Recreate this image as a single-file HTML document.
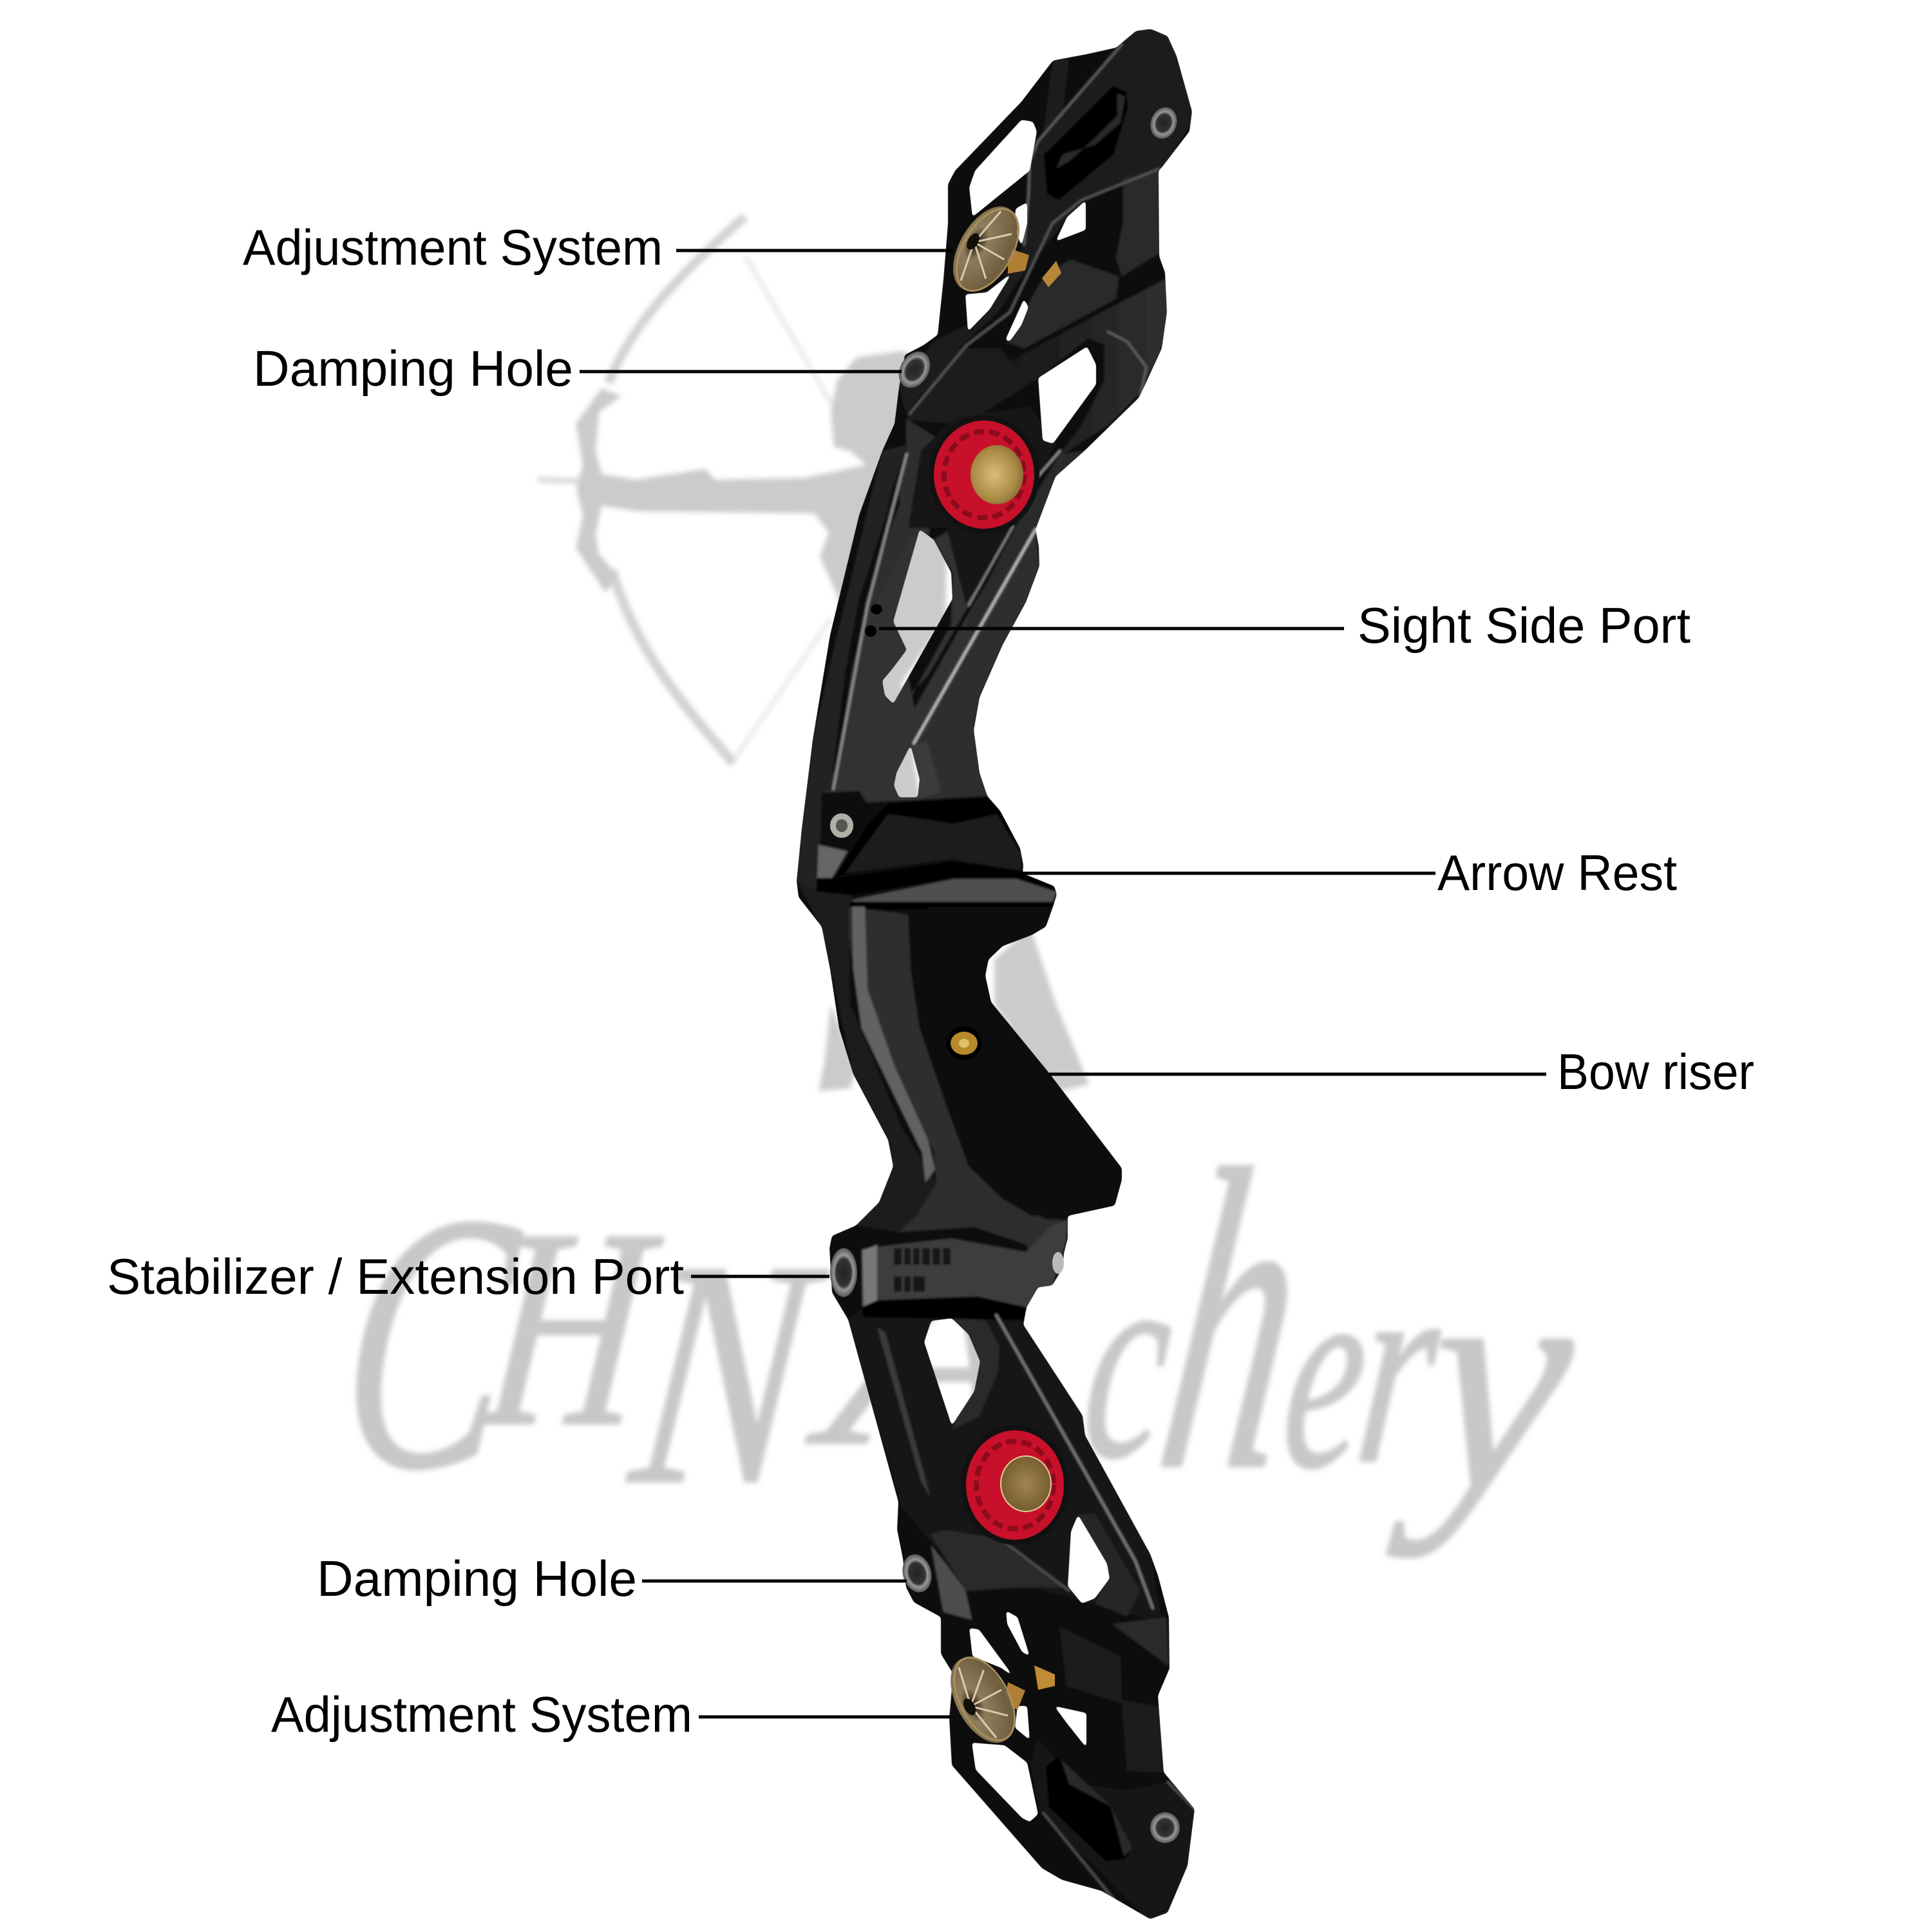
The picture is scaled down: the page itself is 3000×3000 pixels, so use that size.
<!DOCTYPE html>
<html><head><meta charset="utf-8"><style>html,body{margin:0;padding:0;background:#fff}svg{display:block}</style></head><body>
<svg xmlns="http://www.w3.org/2000/svg" width="3000" height="3000" viewBox="0 0 3000 3000">
<defs>
<filter id="b" filterUnits="userSpaceOnUse" x="0" y="0" width="3000" height="3000"><feGaussianBlur stdDeviation="4"/></filter>
<filter id="soft" filterUnits="userSpaceOnUse" x="1100" y="0" width="900" height="3000"><feGaussianBlur stdDeviation="1.6"/></filter>
<filter id="round" filterUnits="userSpaceOnUse" x="0" y="0" width="3000" height="3000" color-interpolation-filters="sRGB">
<feGaussianBlur stdDeviation="2.5"/>
<feComponentTransfer><feFuncR type="linear" slope="6" intercept="-2.5"/><feFuncG type="linear" slope="6" intercept="-2.5"/><feFuncB type="linear" slope="6" intercept="-2.5"/></feComponentTransfer>
</filter>
<linearGradient id="gp" x1="0" y1="0" x2="1" y2="1"><stop offset="0" stop-color="#2b2b2b"/><stop offset="1" stop-color="#383838"/></linearGradient>
<linearGradient id="gb" x1="0" y1="0" x2="1" y2="0"><stop offset="0" stop-color="#181818"/><stop offset="1" stop-color="#303030"/></linearGradient>
<radialGradient id="cap" cx=".45" cy=".5" r=".6"><stop offset="0" stop-color="#d8bd78"/><stop offset=".7" stop-color="#a98a45"/><stop offset="1" stop-color="#7d6532"/></radialGradient>
<radialGradient id="capb" cx=".5" cy=".5" r=".6"><stop offset="0" stop-color="#a08550"/><stop offset="1" stop-color="#6f5629"/></radialGradient>
<radialGradient id="cone" cx=".3" cy=".5" r=".8"><stop offset="0" stop-color="#1a140c"/><stop offset=".25" stop-color="#8f7e5c"/><stop offset=".8" stop-color="#6f5d3e"/><stop offset="1" stop-color="#9a8455"/></radialGradient>
<radialGradient id="sc" cx=".5" cy=".5" r=".5"><stop offset="0" stop-color="#222"/><stop offset=".55" stop-color="#333"/><stop offset=".72" stop-color="#999"/><stop offset="1" stop-color="#555"/></radialGradient>
<mask id="m" maskUnits="userSpaceOnUse" x="0" y="0" width="3000" height="3000">
<g filter="url(#round)">
<rect width="3000" height="3000" fill="#000"/>
<path fill="#fff" d="M1764,48 L1787,45 L1813,56 L1827,87 L1851,173 L1847,204 L1804,260 L1799,265 L1800,398 L1809,423 L1812,485 L1804,541 L1769,617 L1684,700 L1639,740 L1608,822 L1613,848 L1614,879 L1593,935 L1557,1001 L1521,1083 L1512,1134 L1521,1200 L1533,1236 L1553,1259 L1584,1317 L1589,1343 L1588,1356 L1637,1376 L1641,1389 L1635,1408 L1624,1439 L1602,1452 L1557,1469 L1535,1490 L1530,1515 L1539,1556 L1629,1666 L1742,1814 L1742,1832 L1731,1872 L1658,1888 L1658,1923 L1652,1946 L1650,1969 L1634,1996 L1612,1999 L1594,2030 L1589,2057 L1681,2198 L1685,2229 L1786,2413 L1798,2446 L1815,2511 L1816,2591 L1798,2633 L1807,2752 L1855,2809 L1844,2897 L1813,2970 L1786,2980 L1736,2951 L1710,2936 L1649,2919 L1618,2901 L1478,2741 L1474,2668 L1480,2599 L1461,2568 L1461,2511 L1419,2488 L1407,2465 L1402,2420 L1393,2375 L1395,2332 L1317,2049 L1292,2007 L1288,1938 L1292,1919 L1329,1903 L1365,1867 L1387,1811 L1379,1770 L1325,1668 L1303,1597 L1289,1505 L1276,1439 L1240,1393 L1237,1368 L1245,1287 L1262,1149 L1289,986 L1334,800 L1370,700 L1389,658 L1396,602 L1405,551 L1434,536 L1456,520 L1465,434 L1472,347 L1472,286 L1483,265 L1586,158 L1635,94 L1688,84 L1733,74 Z"/>
<g fill="#000">
<path d="M1586,186 L1604,189 L1610,204 L1599,265 L1510,337 L1505,291 L1514,265 Z"/>
<path d="M1595,314 L1577,324 L1575,350 L1586,383 L1595,347 Z"/>
<path d="M1499,457 L1532,454 L1572,423 L1537,480 L1503,515 Z"/>
<path d="M1686,311 L1686,357 L1639,375 L1657,337 Z"/>
<path d="M1561,528 L1590,464 L1597,477 L1586,505 L1568,530 Z"/>
<path d="M1688,538 L1702,566 L1702,597 L1635,689 L1619,684 L1612,587 Z"/>
<path d="M1428,822 L1450,838 L1477,889 L1479,930 L1387,1093 L1374,1080 L1370,1057 L1383,1042 L1408,1009 L1387,965 Z"/>
<path d="M1414,1157 L1428,1210 L1425,1238 L1396,1238 L1388,1220 L1392,1200 Z"/>
<path d="M1446,2051 L1478,2047 L1504,2072 L1522,2114 L1513,2160 L1478,2214 L1435,2084 Z"/>
<path d="M1674,2352 L1719,2428 L1723,2451 L1700,2482 L1680,2490 L1658,2463 L1663,2378 Z"/>
<path d="M1505,2528 L1520,2530 L1575,2605 L1555,2590 L1510,2572 Z"/>
<path d="M1509,2706 L1560,2710 L1595,2737 L1612,2817 L1599,2829 L1587,2823 L1515,2748 Z"/>
<path d="M1580,2649 L1595,2649 L1599,2702 L1576,2683 Z"/>
<path d="M1637,2649 L1687,2660 L1687,2714 L1656,2675 Z"/>
<path d="M1562,2501 L1580,2511 L1599,2572 L1587,2565 L1564,2522 Z"/>
</g>
</g>
</mask>
</defs>
<rect width="3000" height="3000" fill="#fff"/>

<!-- watermark -->
<g filter="url(#b)">
<path fill="none" stroke="#d2d2d2" stroke-width="14" d="M1157,336 C1080,405 985,490 945,595"/>
<path fill="none" stroke="#d2d2d2" stroke-width="15" d="M950,885 C990,1020 1075,1110 1139,1185"/>
<path fill="none" stroke="#e6e6e6" stroke-width="6" d="M1157,397 L1291,627 M1291,960 L1144,1173"/>
<path fill="none" stroke="#d8d8d8" stroke-width="9" d="M836,745 L900,747"/>
<path fill="#cbcbcb" d="M934,603 L965,615 L930,640 L925,700 L934,736 L987,745 L1095,728 L1110,745 L1250,742 L1345,722 L1320,700 L1295,694 L1290,640 L1300,590 L1330,555 L1400,545 L1440,560 L1440,700 L1470,860 L1468,960 L1400,1060 L1430,1250 L1380,1250 L1360,1100 L1300,924 L1273,864 L1287,827 L1264,797 L987,794 L934,785 L925,830 L930,860 L960,895 L940,920 L900,860 L894,851 L905,800 L895,760 L905,720 L894,658 Z"/>
<path fill="#cbcbcb" d="M1544,1490 L1600,1440 L1640,1560 L1691,1684 L1646,1694 L1600,1640 L1544,1560 Z"/>
<path fill="#cbcbcb" d="M1290,1560 L1330,1660 L1320,1690 L1271,1694 L1280,1650 Z"/>
<g font-family="'Liberation Serif',serif" font-style="italic" fill="#c8c8c8" stroke="#c8c8c8" stroke-width="4">
<text transform="translate(520,2276) skewX(-6)" font-size="570" textLength="250" lengthAdjust="spacingAndGlyphs">C</text>
<text transform="translate(745,2210) skewX(-6)" font-size="440" textLength="240" lengthAdjust="spacingAndGlyphs">H</text>
<text transform="translate(975,2300) skewX(-6)" font-size="500" textLength="260" lengthAdjust="spacingAndGlyphs">N</text>
<text transform="translate(1280,2240) skewX(-6)" font-size="420" textLength="320" lengthAdjust="spacingAndGlyphs">A</text>
<text transform="translate(1675,2260) skewX(-6)" font-size="440" textLength="125" lengthAdjust="spacingAndGlyphs">c</text>
<text transform="translate(1790,2276) skewX(-8)" font-size="670" textLength="190" lengthAdjust="spacingAndGlyphs">h</text>
<text transform="translate(1985,2276) skewX(-6)" font-size="430" textLength="120" lengthAdjust="spacingAndGlyphs">e</text>
<text transform="translate(2100,2268) skewX(-6)" font-size="430" textLength="115" lengthAdjust="spacingAndGlyphs">r</text>
<text transform="translate(2205,2310) skewX(-6)" font-size="500" textLength="215" lengthAdjust="spacingAndGlyphs">y</text>
</g>
</g>

<!-- riser, masked -->
<g mask="url(#m)">
<g filter="url(#soft)">
<rect x="1200" y="30" width="700" height="2970" fill="#0b0b0b"/>

<!-- upper limb panels -->
<path fill="#1b1b1b" d="M1742,69 L1764,40 L1820,50 L1860,175 L1805,262 L1679,311 L1639,362 L1590,423 L1550,485 L1488,541 L1443,597 L1407,643 L1396,600 L1450,530 L1500,505 L1560,430 L1590,380 L1600,320 L1597,250 L1612,219 Z"/>
<path fill="#2a2a2a" d="M1744,276 L1800,265 L1800,393 L1742,429 L1733,400 L1744,345 Z"/>
<path fill="#2a2a2a" d="M1662,403 L1737,429 L1733,464 L1590,541 L1563,531 L1621,429 Z"/>
<path fill="url(#gb)" d="M1568,561 L1720,480 L1809,434 L1815,490 L1804,541 L1770,610 L1724,658 L1640,712 L1680,660 L1715,590 L1715,535 L1690,525 L1612,587 Z"/>
<path fill="#1c1c1c" d="M1443,597 L1488,541 L1554,541 L1568,561 L1612,587 L1532,638 L1496,658 L1407,653 Z"/>
<path fill="#050505" d="M1729,133 L1749,143 L1751,168 L1729,240 L1644,311 L1626,301 L1621,240 Z"/>
<path fill="#2b2b2b" d="M1735,145 L1747,150 L1740,190 L1700,225 L1650,240 L1640,262 L1660,250 L1700,215 L1735,180 Z"/>
<path fill="#232323" d="M1635,94 L1660,90 L1650,175 L1620,205 Z" opacity=".7"/>

<!-- sight panel -->
<path fill="#222" d="M1370,700 L1300,986 L1262,1149 L1245,1287 L1237,1368 L1276,1440 L1320,1420 L1270,1370 L1278,1231 L1292,1225 L1330,1000 L1385,760 L1410,690 Z"/>
<path fill="url(#gp)" d="M1408,705 L1347,940 L1307,1108 L1292,1225 L1278,1231 L1347,1246 L1530,1236 L1521,1200 L1512,1134 L1521,1083 L1557,1001 L1593,935 L1614,879 L1608,822 L1560,860 L1500,960 L1420,1100 L1408,1040 L1420,940 L1450,790 L1470,690 L1407,650 Z"/>
<path fill="#070707" d="M1392,751 L1334,930 L1312,1047 L1293,1200 L1300,1200 L1322,1047 L1345,930 L1398,780 Z"/>
<path fill="#333" d="M1450,838 L1480,820 L1500,870 L1510,880 L1510,930 L1440,1050 L1390,1100 L1410,1090 L1477,970 L1479,889 Z"/>
<path fill="#2f2f2f" d="M1608,822 L1614,879 L1593,935 L1557,1001 L1521,1083 L1512,1134 L1521,1200 L1533,1236 L1430,1240 L1425,1160 L1500,1020 L1560,920 Z"/>
<path fill="#3a3a3a" d="M1414,1157 L1440,1152 L1462,1230 L1428,1240 Z"/>
<path fill="#2a2a2a" d="M1576,820 L1646,705 L1687,700 L1608,822 L1515,985 L1500,970 Z"/>
<path fill="#141414" d="M1410,820 L1430,700 L1480,650 L1600,630 L1640,690 L1570,810 L1500,940 L1470,820 Z"/>

<!-- lower limb panels -->
<path fill="#141414" d="M1317,2049 L1340,2030 L1600,2030 L1589,2057 L1681,2198 L1685,2229 L1786,2413 L1805,2520 L1620,2470 L1450,2400 L1400,2340 Z"/>
<path fill="#3a3a3a" d="M1362,2061 L1375,2070 L1445,2325 L1430,2300 Z"/>
<path fill="#2c2c2c" d="M1478,2047 L1530,2050 L1552,2090 L1550,2130 L1520,2200 L1478,2220 L1510,2150 L1522,2114 L1504,2072 Z"/>
<path fill="#262626" d="M1674,2352 L1700,2350 L1770,2470 L1750,2510 L1700,2490 L1720,2450 Z"/>
<path fill="#2c2c2c" d="M1444,2382 L1470,2376 L1554,2390 L1656,2465 L1580,2465 L1500,2470 Z"/>
<path fill="#4e4e4e" d="M1446,2400 L1476,2438 L1499,2469 L1509,2515 L1465,2503 Z"/>
<path fill="#2a2a2a" d="M1727,2522 L1811,2511 L1815,2587 Z"/>
<path fill="#1c1c1c" d="M1645,2526 L1740,2572 L1742,2640 L1800,2650 L1807,2752 L1750,2750 L1742,2645 L1656,2618 Z"/>
<path fill="#151515" d="M1813,2767 L1860,2809 L1845,2900 L1810,2980 L1786,2985 L1614,2813 L1600,2740 L1610,2700 L1680,2770 L1750,2780 Z"/>
<path fill="#030303" d="M1641,2729 L1720,2800 L1756,2871 L1748,2886 L1717,2890 L1629,2806 L1624,2744 Z"/>
<path fill="#2a2a2a" d="M1648,2733 L1725,2805 L1758,2870 L1745,2882 L1725,2805 L1660,2770 Z"/>

<!-- rest & clamp -->
<path fill="#070707" d="M1276,1231 L1334,1228 L1347,1248 L1343,1266 L1320,1312 L1274,1310 Z"/>
<path fill="#050505" d="M1379,1248 L1533,1238 L1553,1259 L1588,1333 L1588,1356 L1477,1338 L1312,1358 L1298,1361 L1347,1282 Z"/>
<path fill="#1d1d1d" d="M1379,1264 L1481,1279 L1548,1264 L1586,1328 L1586,1352 L1477,1335 L1312,1356 Z"/>
<path fill="#666" d="M1271,1312 L1316,1322 L1292,1363 L1269,1363 Z"/>
<path fill="#030303" d="M1267,1384 L1269,1363 L1298,1363 L1477,1340 L1588,1358 L1640,1378 L1640,1400 L1477,1363 L1323,1390 Z"/>
<path fill="#1a1a1a" d="M1237,1368 L1267,1384 L1323,1390 L1318,1410 L1320,1560 L1400,1750 L1454,1837 L1423,1888 L1396,1913 L1329,1903 L1387,1811 L1325,1668 L1276,1439 Z"/>
<path fill="#505050" d="M1320,1398 L1481,1365 L1579,1365 L1640,1385 L1635,1400 L1334,1402 Z"/>
<path fill="#000" d="M1320,1400 L1640,1400 L1635,1412 L1320,1412 Z"/>
<path fill="#2e2e2e" d="M1318,1408 L1410,1420 L1414,1505 L1428,1597 L1472,1724 L1504,1811 L1557,1862 L1624,1893 L1658,1895 L1655,1913 L1593,1939 L1512,1913 L1396,1913 L1423,1888 L1454,1837 L1450,1786 L1414,1719 L1365,1648 L1334,1556 L1318,1454 Z"/>
<path fill="#626262" d="M1323,1408 L1343,1408 L1347,1536 L1388,1653 L1441,1770 L1452,1816 L1437,1836 L1432,1790 L1388,1700 L1338,1597 L1325,1505 Z"/>
<path fill="#0a0a0a" d="M1441,1408 L1635,1408 L1624,1439 L1602,1452 L1557,1469 L1535,1490 L1530,1515 L1539,1556 L1629,1666 L1742,1814 L1742,1832 L1731,1872 L1660,1888 L1602,1888 L1557,1862 L1504,1811 L1472,1724 L1428,1597 L1414,1505 L1419,1439 Z"/>
<path fill="#0b0b0b" d="M1396,1913 L1512,1905 L1593,1932 L1600,1950 L1340,1950 Z"/>
<path fill="#3c3c3c" d="M1338,1939 L1477,1923 L1593,1944 L1633,1903 L1658,1895 L1655,1929 L1634,1996 L1594,2030 L1518,2013 L1362,2019 L1339,2030 Z"/>
<path fill="#777" d="M1339,1942 L1362,1933 L1362,2019 L1341,2028 Z"/>
<path fill="#000" d="M1339,2030 L1362,2019 L1518,2013 L1594,2030 L1590,2050 L1340,2045 Z"/>
<g fill="#171717">
<rect x="1388" y="1938" width="12" height="26"/><rect x="1404" y="1938" width="10" height="26"/><rect x="1418" y="1938" width="10" height="26"/><rect x="1432" y="1938" width="12" height="26"/><rect x="1448" y="1938" width="12" height="26"/><rect x="1464" y="1938" width="12" height="26"/>
<rect x="1388" y="1982" width="12" height="24"/><rect x="1404" y="1982" width="10" height="24"/><rect x="1418" y="1982" width="18" height="24"/>
</g>
<!-- highlights -->
<g fill="none" stroke-linecap="round">
<path stroke="#bdbdbd" stroke-width="4" d="M1608,822 L1419,1154"/>
<path stroke="#888" stroke-width="3" d="M1573,817 L1504,940"/>
<path stroke="#999" stroke-width="3" d="M1646,700 L1602,751"/>
<path stroke="#8e8e8e" stroke-width="4" d="M1408,705 L1347,940 L1294,1225"/>
<path stroke="#5d5d5d" stroke-width="3" d="M1412,643 L1501,536 L1568,485 L1634,347 L1679,311 L1800,262"/>
<path stroke="#666" stroke-width="3" d="M1612,219 L1599,250 L1597,306 L1590,380"/>
<path stroke="#666" stroke-width="3" d="M1612,219 L1742,69"/>
<path stroke="#7a7a7a" stroke-width="4" d="M1547,2042 L1763,2424 L1790,2497"/>
<path stroke="#555" stroke-width="3" d="M1554,2390 L1660,2470"/>
<path stroke="#555" stroke-width="3" d="M1620,2815 L1730,2950"/>
<path stroke="#555" stroke-width="3" d="M1813,2767 L1855,2809"/>
<path stroke="#666" stroke-width="3" d="M1720,515 L1750,530 L1780,570 L1770,620"/>
</g>
</g>
</g>

<!-- red rings -->
<g>
<ellipse cx="1528" cy="737" rx="86" ry="92" fill="#111"/>
<ellipse cx="1528" cy="737" rx="78" ry="84" fill="#c8102a"/>
<ellipse cx="1528" cy="737" rx="62" ry="67" fill="none" stroke="#8d0b1c" stroke-width="8" stroke-dasharray="16 8"/>
<ellipse cx="1548" cy="737" rx="41" ry="46" fill="url(#cap)"/>
<ellipse cx="1576" cy="2306" rx="84" ry="93" fill="#111"/>
<ellipse cx="1576" cy="2306" rx="76" ry="85" fill="#c8102a"/>
<ellipse cx="1576" cy="2306" rx="60" ry="68" fill="none" stroke="#8d0b1c" stroke-width="8" stroke-dasharray="16 8"/>
<ellipse cx="1593" cy="2304" rx="39" ry="43" fill="url(#capb)" stroke="#e2d09a" stroke-width="2"/>
</g>

<!-- adjusters -->
<g>
<path fill="#b07f35" d="M1565,385 L1598,396 L1592,420 L1565,425 Z"/>
<path fill="#b8863a" d="M1618,432 L1640,405 L1648,424 L1628,446 Z"/>
<g transform="translate(1530,386) rotate(30)">
<ellipse rx="40" ry="72" fill="url(#cone)"/>
<ellipse cx="4" rx="38" ry="70" fill="none" stroke="#a88f5c" stroke-width="3"/>
<path fill="none" stroke="#d9ccae" stroke-width="3" d="M-20,0 L24,-40 M-20,0 L34,0 M-20,0 L24,40 M-20,0 L-8,-62 M-20,0 L-8,62"/>
<ellipse cx="-22" rx="8" ry="14" fill="#120e08"/>
</g>
<path fill="#b07f35" d="M1565,2612 L1592,2625 L1580,2655 L1560,2645 Z"/>
<path fill="#c08c35" d="M1606,2586 L1638,2600 L1638,2618 L1612,2624 Z"/>
<g transform="translate(1525,2640) rotate(-28)">
<ellipse rx="40" ry="72" fill="url(#cone)"/>
<ellipse cx="4" rx="38" ry="70" fill="none" stroke="#a88f5c" stroke-width="3"/>
<path fill="none" stroke="#d9ccae" stroke-width="3" d="M-20,0 L24,-40 M-20,0 L34,0 M-20,0 L24,40 M-20,0 L-8,-62 M-20,0 L-8,62"/>
<ellipse cx="-22" rx="8" ry="14" fill="#120e08"/>
</g>
</g>

<!-- screws -->
<ellipse cx="1420" cy="574" rx="22" ry="30" transform="rotate(30 1420 574)" fill="url(#sc)"/>
<ellipse cx="1807" cy="191" rx="20" ry="25" transform="rotate(20 1807 191)" fill="url(#sc)"/>
<ellipse cx="1307" cy="1282" rx="19" ry="20" fill="#b0b0a8" stroke="#111" stroke-width="2"/>
<ellipse cx="1307" cy="1282" rx="9" ry="10" fill="#555"/>
<ellipse cx="1310" cy="1976" rx="21" ry="38" fill="url(#sc)"/>
<ellipse cx="1424" cy="2443" rx="22" ry="30" transform="rotate(-15 1424 2443)" fill="url(#sc)"/>
<ellipse cx="1809" cy="2838" rx="23" ry="24" fill="url(#sc)"/>
<ellipse cx="1643" cy="1961" rx="9" ry="17" fill="#bbb"/>
<ellipse cx="1497" cy="1620" rx="27" ry="26" fill="#000"/>
<ellipse cx="1497" cy="1620" rx="21" ry="18" fill="#b8892b"/>
<ellipse cx="1497" cy="1620" rx="8" ry="7" fill="#e3c06a"/>
<ellipse cx="1352" cy="980" rx="9" ry="9" fill="#000"/>
<ellipse cx="1361" cy="946" rx="9" ry="8" fill="#000"/>

<!-- connectors -->
<g stroke="#000" stroke-width="5">
<line x1="1050" y1="389" x2="1479" y2="389"/>
<line x1="900" y1="577" x2="1400" y2="577"/>
<line x1="1365" y1="976" x2="2087" y2="976"/>
<line x1="1588" y1="1356" x2="2229" y2="1356"/>
<line x1="1629" y1="1668" x2="2401" y2="1668"/>
<line x1="1073" y1="1982" x2="1288" y2="1982"/>
<line x1="997" y1="2455" x2="1408" y2="2455"/>
<line x1="1085" y1="2666" x2="1476" y2="2666"/>
</g>

<!-- labels -->
<g font-family="'Liberation Sans',sans-serif" font-size="78" fill="#000">
<text x="377" y="411" textLength="652" lengthAdjust="spacingAndGlyphs">Adjustment System</text>
<text x="393" y="599" textLength="497" lengthAdjust="spacingAndGlyphs">Damping Hole</text>
<text x="2108" y="998" textLength="517" lengthAdjust="spacingAndGlyphs">Sight Side Port</text>
<text x="2232" y="1382" textLength="372" lengthAdjust="spacingAndGlyphs">Arrow Rest</text>
<text x="2418" y="1691" textLength="306" lengthAdjust="spacingAndGlyphs">Bow riser</text>
<text x="166" y="2009" textLength="896" lengthAdjust="spacingAndGlyphs">Stabilizer / Extension Port</text>
<text x="492" y="2478" textLength="497" lengthAdjust="spacingAndGlyphs">Damping Hole</text>
<text x="421" y="2689" textLength="654" lengthAdjust="spacingAndGlyphs">Adjustment System</text>
</g>
</svg>
</body></html>
